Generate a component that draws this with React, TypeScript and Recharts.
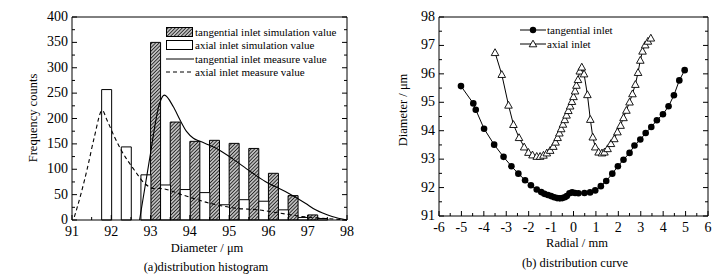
import React from "react";
import {
  ComposedChart,
  LineChart,
  Bar,
  Line,
  XAxis,
  YAxis,
  Legend,
} from "recharts";

const FONT = '"Liberation Serif", "Times New Roman", serif';

// ---- (a) distribution histogram ----
const bins = [91.75, 92.25, 92.75, 93.25, 93.75, 94.25, 94.75, 95.25, 95.75, 96.25, 96.75, 97.25];
const tangentialSim = [0, 0, 0, 350, 193, 155, 157, 151, 141, 92, 48, 10];
const axialSim = [257, 144, 89, 69, 60, 54, 30, 40, 37, 20, 5, 3];

const tangentialMeasureX = [92.72, 92.97, 93.23, 93.35, 93.58, 93.75, 93.92, 94.09, 94.26, 94.68, 95.1, 95.53, 95.92, 96.43, 96.94, 97.2, 97.62, 98];
const tangentialMeasureY = [0, 118, 230, 246, 223, 197, 174, 161, 155, 141, 120, 96, 76, 56, 33, 20, 7, 0];
const axialMeasureX = [91.06, 91.23, 91.4, 91.57, 91.77, 91.89, 92.08, 92.25, 92.59, 92.85, 93.1, 93.24, 93.83, 94.51, 95.19, 95.74, 96.25, 96.85, 97.45, 98];
const axialMeasureY = [6, 52, 105, 164, 216, 197, 164, 138, 98, 72, 62, 62, 49, 33, 23, 20, 14, 7, 3, 0];

const histTicksX = [91, 91.5, 92, 92.5, 93, 93.5, 94, 94.5, 95, 95.5, 96, 96.5, 97, 97.5, 98];
const histLabelsX = [91, 92, 93, 94, 95, 96, 97, 98];
const histTicksY = [0, 25, 50, 75, 100, 125, 150, 175, 200, 225, 250, 275, 300, 325, 350, 375, 400];
const histLabelsY = [0, 50, 100, 150, 200, 250, 300, 350, 400];

// ---- (b) distribution curve ----
const tangentialRadial = [-5.02, -4.47, -4.36, -3.99, -3.54, -3.12, -2.77, -2.46, -2.16, -1.9, -1.64, -1.44, -1.3, -1.14, -1.0, -0.86, -0.73, -0.61, -0.5, -0.39, -0.3, -0.18, -0.06, 0.07, 0.22, 0.49, 0.74, 0.97, 1.22, 1.46, 1.73, 1.98, 2.23, 2.5, 2.72, 2.98, 3.22, 3.47, 3.72, 3.99, 4.24, 4.48, 4.72, 4.96];
const tangentialDiameter = [95.57, 94.96, 94.74, 94.07, 93.51, 93.08, 92.75, 92.49, 92.26, 92.08, 91.93, 91.84, 91.78, 91.74, 91.7, 91.66, 91.63, 91.62, 91.63, 91.66, 91.7, 91.8, 91.83, 91.81, 91.8, 91.81, 91.83, 91.9, 92.05, 92.23, 92.49, 92.75, 92.98, 93.22, 93.48, 93.69, 93.92, 94.13, 94.37, 94.58, 94.86, 95.25, 95.77, 96.13];
const axialRadial = [-3.5, -3.2, -2.9, -2.68, -2.43, -2.2, -2.01, -1.83, -1.64, -1.49, -1.34, -1.19, -1.04, -0.9, -0.8, -0.71, -0.63, -0.55, -0.47, -0.39, -0.31, -0.23, -0.15, -0.07, 0.0, 0.07, 0.13, 0.2, 0.28, 0.37, 0.47, 0.62, 0.75, 0.86, 0.97, 1.12, 1.27, 1.38, 1.52, 1.67, 1.82, 1.96, 2.1, 2.23, 2.36, 2.5, 2.63, 2.76, 2.88, 2.98, 3.08, 3.2, 3.32, 3.45];
const axialDiameter = [96.75, 95.98, 94.9, 94.22, 93.76, 93.43, 93.24, 93.15, 93.1, 93.1, 93.14, 93.22, 93.31, 93.45, 93.6, 93.76, 93.92, 94.07, 94.23, 94.39, 94.55, 94.71, 94.87, 95.03, 95.2, 95.4, 95.6, 95.8, 96.1, 96.24, 96.0, 95.27, 94.4, 93.78, 93.43, 93.25, 93.22, 93.25, 93.37, 93.55, 93.72, 93.96, 94.19, 94.46, 94.72, 95.01, 95.3, 95.63, 96.05, 96.48, 96.8, 97.02, 97.15, 97.26];

const curveTicksX = [-6, -5.5, -5, -4.5, -4, -3.5, -3, -2.5, -2, -1.5, -1, -0.5, 0, 0.5, 1, 1.5, 2, 2.5, 3, 3.5, 4, 4.5, 5, 5.5, 6];
const curveLabelsX = [-6, -5, -4, -3, -2, -1, 0, 1, 2, 3, 4, 5, 6];
const curveTicksY = [91, 91.5, 92, 92.5, 93, 93.5, 94, 94.5, 95, 95.5, 96, 96.5, 97, 97.5, 98];
const curveLabelsY = [91, 92, 93, 94, 95, 96, 97, 98];

const histData = bins.map((d, i) => ({ d, tangential: tangentialSim[i], axial: axialSim[i] }));
const tangentialMeasure = tangentialMeasureX.map((d, i) => ({ d, v: tangentialMeasureY[i] }));
const axialMeasure = axialMeasureX.map((d, i) => ({ d, v: axialMeasureY[i] }));
const tangentialCurve = tangentialRadial.map((r, i) => ({ r, v: tangentialDiameter[i] }));
const axialCurve = axialRadial.map((r, i) => ({ r, v: axialDiameter[i] }));

// ticks point inwards, labels only on major ticks
const tickFor = (side: string, labels: number[] | null, major: number[]) => (props: any) => {
  const { x, y, payload } = props;
  const v = payload.value;
  const isMajor = major.includes(v);
  const isLabel = labels ? labels.includes(v) : false;
  const len = isMajor ? 5 : 3;
  let line;
  let text = null;
  if (side === "bottom") {
    line = <line x1={x} y1={y} x2={x} y2={y - len} stroke="#000" />;
    if (isLabel)
      text = (
        <text x={x} y={y + 15.5} textAnchor="middle" fontSize={14} fontFamily={FONT} fill="#000">
          {v}
        </text>
      );
  } else if (side === "top") {
    line = <line x1={x} y1={y} x2={x} y2={y + len} stroke="#000" />;
  } else if (side === "left") {
    line = <line x1={x} y1={y} x2={x + len} y2={y} stroke="#000" />;
    if (isLabel)
      text = (
        <text x={x - 4} y={y + 4} textAnchor="end" fontSize={14} fontFamily={FONT} fill="#000">
          {v}
        </text>
      );
  } else {
    line = <line x1={x} y1={y} x2={x - len} y2={y} stroke="#000" />;
  }
  return (
    <g>
      {line}
      {text}
    </g>
  );
};

const HistLegend = () => (
  <div style={{ fontFamily: FONT, fontSize: 11, color: "#000", whiteSpace: "nowrap" }}>
    {[
      { name: "tangential inlet simulation value", kind: "hatch" },
      { name: "axial inlet simulation value", kind: "box" },
      { name: "tangential inlet measure value", kind: "line" },
      { name: "axial inlet measure value", kind: "dash" },
    ].map((it) => (
      <div key={it.name} style={{ display: "flex", alignItems: "center", height: 13.5 }}>
        <svg width={29} height={12} style={{ display: "block" }}>
          {it.kind === "hatch" && <rect x={0.5} y={1.5} width={26} height={9} fill="url(#hatch)" stroke="#000" />}
          {it.kind === "box" && <rect x={0.5} y={1.5} width={26} height={9} fill="#fff" stroke="#000" />}
          {it.kind === "line" && <line x1={0} y1={6} x2={28} y2={6} stroke="#000" />}
          {it.kind === "dash" && <line x1={0} y1={6} x2={28} y2={6} stroke="#000" strokeDasharray="4 3" />}
        </svg>
        <span>{it.name}</span>
      </div>
    ))}
  </div>
);

const CurveLegend = () => (
  <div style={{ fontFamily: FONT, fontSize: 11, color: "#000", whiteSpace: "nowrap" }}>
    {[
      { name: "tangential inlet", kind: "circle" },
      { name: "axial inlet", kind: "tri" },
    ].map((it) => (
      <div key={it.name} style={{ display: "flex", alignItems: "center", height: 13.7 }}>
        <svg width={27} height={12} style={{ display: "block" }}>
          <line x1={0} y1={6} x2={26} y2={6} stroke="#000" />
          {it.kind === "circle" ? (
            <circle cx={13} cy={6} r={3.2} fill="#000" />
          ) : (
            <path d="M13,2.2 L16.8,8.8 L9.2,8.8 Z" fill="#fff" stroke="#000" strokeWidth={0.9} />
          )}
        </svg>
        <span>{it.name}</span>
      </div>
    ))}
  </div>
);

const renderCircle = (p: any) => <circle key={p.key ?? `c${p.index}`} cx={p.cx} cy={p.cy} r={3.3} fill="#000" />;
const renderTriangle = (p: any) => {
  const s = 3.8;
  return (
    <path
      key={p.key ?? `t${p.index}`}
      d={`M${p.cx},${p.cy - s} L${p.cx + s},${p.cy + s * 0.8} L${p.cx - s},${p.cy + s * 0.8} Z`}
      fill="#fff"
      stroke="#000"
      strokeWidth={0.9}
    />
  );
};

const titleStyle = (left: number, top: number, rotate = false): React.CSSProperties => ({
  position: "absolute",
  left,
  top,
  transform: rotate ? "translate(-50%, -50%) rotate(-90deg)" : "translate(-50%, -50%)",
  fontFamily: FONT,
  fontSize: 12.5,
  color: "#000",
  whiteSpace: "nowrap",
});

export default function App() {
  return (
    <div style={{ position: "absolute", left: 0, top: 0, width: 721, height: 279, background: "#fff" }}>
      <div style={{ position: "absolute", left: 0, top: 0 }}>
        <ComposedChart
          width={360}
          height={279}
          data={histData}
          margin={{ top: 16, right: 12, bottom: 58, left: 0 }}
          barGap={0}
          barCategoryGap={0}
        >
          <defs>
            <pattern id="hatch" patternUnits="userSpaceOnUse" width={2.5} height={2.5} patternTransform="rotate(45)">
              <rect width={2.5} height={2.5} fill="#bdbdbd" />
              <line x1={0} y1={0} x2={0} y2={2.5} stroke="#111" strokeWidth={1.5} />
            </pattern>
          </defs>
          <XAxis
            dataKey="d"
            type="number"
            domain={[91, 98]}
            ticks={histTicksX}
            interval={0}
            height={1}
            tickSize={0}
            tickMargin={0}
            tickLine={false}
            tick={tickFor("bottom", histLabelsX, histLabelsX)}
            stroke="#000"
          />
          <XAxis xAxisId="m" dataKey="d" type="number" domain={[91, 98]} hide />
          <XAxis
            xAxisId="top"
            orientation="top"
            type="number"
            domain={[91, 98]}
            allowDataOverflow
            ticks={histTicksX}
            interval={0}
            height={1}
            tickSize={0}
            tickMargin={0}
            tickLine={false}
            tick={tickFor("top", null, histLabelsX)}
            stroke="#000"
          />
          <YAxis
            type="number"
            domain={[0, 400]}
            ticks={histTicksY}
            interval={0}
            width={72}
            tickSize={0}
            tickMargin={0}
            tickLine={false}
            tick={tickFor("left", histLabelsY, histLabelsY)}
            stroke="#000"
          />
          <YAxis
            yAxisId="r"
            orientation="right"
            type="number"
            domain={[0, 400]}
            allowDataOverflow
            ticks={histTicksY}
            interval={0}
            width={1}
            tickSize={0}
            tickMargin={0}
            tickLine={false}
            tick={tickFor("right", null, histLabelsY)}
            stroke="#000"
          />
          <Legend
            layout="vertical"
            align="center"
            verticalAlign="middle"
            wrapperStyle={{ left: 166, top: 25, width: 190 }}
            content={() => <HistLegend />}
          />
          <Bar dataKey="tangential" fill="url(#hatch)" stroke="#000" strokeWidth={1} isAnimationActive={false} />
          <Bar dataKey="axial" fill="#fff" stroke="#000" strokeWidth={1} isAnimationActive={false} />
          <Line
            xAxisId="m"
            data={tangentialMeasure}
            dataKey="v"
            type="monotone"
            stroke="#000"
            strokeWidth={1.1}
            dot={false}
            isAnimationActive={false}
          />
          <Line
            xAxisId="m"
            data={axialMeasure}
            dataKey="v"
            type="monotone"
            stroke="#000"
            strokeWidth={1.1}
            strokeDasharray="4 3"
            dot={false}
            isAnimationActive={false}
          />
        </ComposedChart>
        <div style={titleStyle(33, 118, true)}>Frequency counts</div>
        <div style={titleStyle(207, 248)}>Diameter / μm</div>
        <div style={titleStyle(206, 267)}>(a)distribution histogram</div>
      </div>

      <div style={{ position: "absolute", left: 360, top: 0, width: 361, height: 279 }}>
        <LineChart width={361} height={279} margin={{ top: 16, right: 12, bottom: 62, left: 0 }}>
          <XAxis
            dataKey="r"
            type="number"
            domain={[-6, 6]}
            ticks={curveTicksX}
            interval={0}
            height={1}
            tickSize={0}
            tickMargin={0}
            tickLine={false}
            tick={tickFor("bottom", curveLabelsX, curveLabelsX)}
            stroke="#000"
            allowDataOverflow
          />
          <XAxis
            xAxisId="top"
            orientation="top"
            type="number"
            domain={[-6, 6]}
            allowDataOverflow
            ticks={curveTicksX}
            interval={0}
            height={1}
            tickSize={0}
            tickMargin={0}
            tickLine={false}
            tick={tickFor("top", null, curveLabelsX)}
            stroke="#000"
          />
          <YAxis
            type="number"
            domain={[91, 98]}
            allowDataOverflow
            ticks={curveTicksY}
            interval={0}
            width={79}
            tickSize={0}
            tickMargin={0}
            tickLine={false}
            tick={tickFor("left", curveLabelsY, curveLabelsY)}
            stroke="#000"
          />
          <YAxis
            yAxisId="r"
            orientation="right"
            type="number"
            domain={[91, 98]}
            allowDataOverflow
            ticks={curveTicksY}
            interval={0}
            width={1}
            tickSize={0}
            tickMargin={0}
            tickLine={false}
            tick={tickFor("right", null, curveLabelsY)}
            stroke="#000"
          />
          <Legend
            layout="vertical"
            align="center"
            verticalAlign="middle"
            wrapperStyle={{ left: 160, top: 23, width: 150 }}
            content={() => <CurveLegend />}
          />
          <Line
            data={tangentialCurve}
            dataKey="v"
            type="linear"
            stroke="#000"
            strokeWidth={1}
            dot={renderCircle}
            isAnimationActive={false}
          />
          <Line
            data={axialCurve}
            dataKey="v"
            type="linear"
            stroke="#000"
            strokeWidth={1}
            dot={renderTriangle}
            isAnimationActive={false}
          />
        </LineChart>
        <div style={titleStyle(43, 110, true)}>Diameter / μm</div>
        <div style={titleStyle(217, 243)}>Radial / mm</div>
        <div style={titleStyle(215, 263)}>(b) distribution curve</div>
      </div>
    </div>
  );
}
